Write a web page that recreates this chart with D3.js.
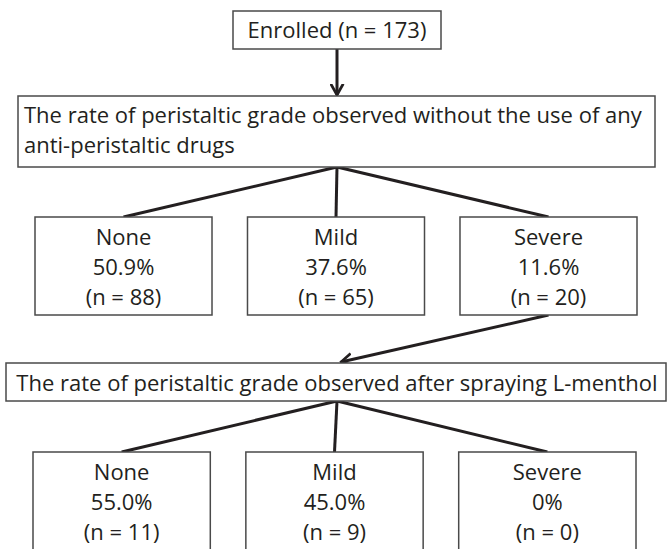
<!DOCTYPE html>
<html>
<head>
<meta charset="utf-8">
<script src="https://cdn.jsdelivr.net/npm/d3@7"></script>
<style>
    body { margin: 0; background: #fff; }
    text { font-family: "Open Sans", Lato, sans-serif; fill: #231f20; }
</style>
</head>
<body>
<svg id="chart" width="668" height="549"></svg>
<script>
// flow chart data
const enrolledTotal = 173
const stageTitles = [
    ["The rate of peristaltic grade observed without the use of any", "anti-peristaltic drugs"],
    ["The rate of peristaltic grade observed after spraying L-menthol"]
]
const grades = ["None", "Mild", "Severe"]
const beforePct = [50.9, 37.6, 11.6]
const beforeN = [88, 65, 20]
const afterPct = [55.0, 45.0, 0]
const afterN = [11, 9, 0]

const svg = d3.select("#chart")
const ink = "#231f20"
const border = "#4a4a4a"
const fontSize = 22

svg.append("defs").append("marker")
    .attr("id", "chev")
    .attr("viewBox", "0 -6 10 12")
    .attr("refX", 9)
    .attr("refY", 0)
    .attr("markerUnits", "userSpaceOnUse")
    .attr("markerWidth", 13)
    .attr("markerHeight", 15)
    .attr("orient", "auto")
    .append("path")
    .attr("d", "M0,-5L9,0L0,5")
    .attr("fill", "none")
    .attr("stroke", ink)
    .attr("stroke-width", 2.2)

const pctFmt = v => v === 0 ? "0%" : d3.format(".1f")(v) + "%"

function box(x0, y0, x1, y1) {
    svg.append("rect")
        .attr("x", x0).attr("y", y0)
        .attr("width", x1 - x0).attr("height", y1 - y0)
        .attr("fill", "#fff")
        .attr("stroke", border)
        .attr("stroke-width", 1.5)
}

function link(x0, y0, x1, y1, arrow) {
    const l = svg.append("line")
        .attr("x1", x0).attr("y1", y0)
        .attr("x2", x1).attr("y2", y1)
        .attr("stroke", ink)
        .attr("stroke-width", 3)
    if (arrow) l.attr("marker-end", "url(#chev)")
}

// band scales for the two rows of grade boxes
const row1 = d3.scaleBand().domain(grades).range([35, 637]).paddingInner(0.167).paddingOuter(0)
const row2 = d3.scaleBand().domain(grades).range([33, 636]).paddingInner(0.167).paddingOuter(0)
const mid = 337

// links first (behind boxes)
link(mid, 49, mid, 95, true)
grades.forEach(g => link(mid, 167, row1(g) + row1.bandwidth() / 2, 217))
link(row1("Severe") + row1.bandwidth() / 2, 315, 341, 362, true)
grades.forEach(g => link(mid, 401, row2(g) + row2.bandwidth() / 2, 452))

// enrolled
box(233, 11, 441, 49)
svg.append("text")
    .attr("x", mid).attr("y", 38)
    .attr("text-anchor", "middle")
    .style("font-size", fontSize + "px")
    .text(`Enrolled (n = ${enrolledTotal})`)

// stage 1 title
box(18, 96, 655, 167)
svg.append("g").selectAll("text")
    .data(stageTitles[0]).enter()
    .append("text")
    .attr("x", 24)
    .attr("y", (d, i) => 123 + i * 30)
    .style("font-size", fontSize + "px")
    .text(d => d)

// grade boxes
function gradeRow(scale, top, bottom, pct, n) {
    grades.forEach((g, i) => {
        const x = scale(g)
        box(x, top, x + scale.bandwidth(), bottom)
        const lines = [g, pctFmt(pct[i]), `(n = ${n[i]})`]
        svg.append("g").selectAll("text")
            .data(lines).enter()
            .append("text")
            .attr("x", x + scale.bandwidth() / 2)
            .attr("y", (d, j) => top + 28 + j * 30)
            .attr("text-anchor", "middle")
            .style("font-size", fontSize + "px")
            .text(d => d)
    })
}
gradeRow(row1, 217, 315, beforePct, beforeN)

// stage 2 title
box(6, 363, 666, 401)
svg.append("text")
    .attr("x", mid).attr("y", 391)
    .attr("text-anchor", "middle")
    .style("font-size", fontSize + "px")
    .text(stageTitles[1][0])

gradeRow(row2, 452, 570, afterPct, afterN)
</script>
</body>
</html>
